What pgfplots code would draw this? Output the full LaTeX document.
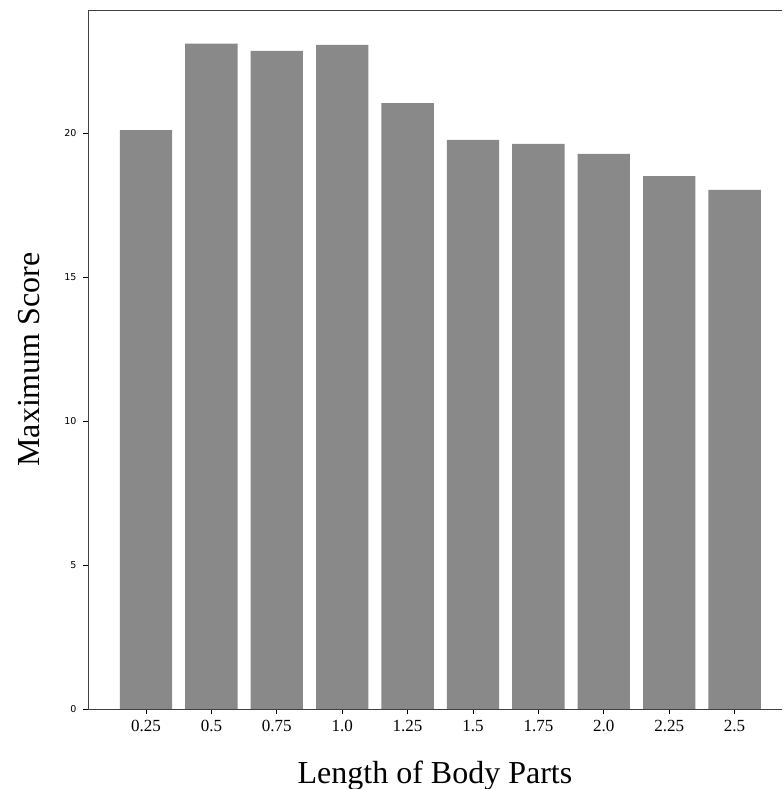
\documentclass[border=0pt]{standalone}
\usepackage{pgfplots}
\pgfplotsset{compat=1.18}
\usetikzlibrary{calc}
\usepackage{fontspec}
\setmainfont{Liberation Serif}
\newfontfamily\tickfont{DejaVu Sans}
\definecolor{bargray}{RGB}{137,137,137}

\begin{document}
\begin{tikzpicture}
\begin{axis}[
    name=ax,
    scale only axis,
    width=694pt, height=699pt,
    xmin=-0.887, xmax=9.725,
    ymin=0, ymax=24.27,
    axis x line*=box,
    axis y line*=left,
    axis line style={-, line width=0.9pt, color=black!75},
    xtick={0,...,9},
    xticklabels={0.25,0.5,0.75,1.0,1.25,1.5,1.75,2.0,2.25,2.5},
    ytick={0,5,10,15,20},
    /pgf/number format/assume math mode=true,
    tick align=outside,
    tick pos=left,
    major tick length=5pt,
    tick style={line width=0.9pt, color=black},
    xticklabel style={font=\fontsize{17}{20}\selectfont, yshift=-3pt},
    yticklabel style={font=\tickfont\fontsize{9.5}{11}\selectfont, xshift=-3pt},
    xlabel={Length of Body Parts},
    ylabel={Maximum Score},
    label style={font=\fontsize{32}{36}\selectfont},
    xlabel style={yshift=-22pt},
    ylabel style={yshift=18pt},
    ybar,
    bar width=0.8,
    bar shift=0pt,
]
\addplot[fill=bargray, draw=none] coordinates {
    (0,20.1) (1,23.1) (2,22.85) (3,23.06) (4,21.04)
    (5,19.76) (6,19.62) (7,19.27) (8,18.5) (9,18.02)
};
\end{axis}
\pgfresetboundingbox
\path[use as bounding box] ($(ax.south west)+(-88pt,-80pt)$) rectangle ($(ax.north east)+(0pt,10pt)$);
\end{tikzpicture}
\end{document}
